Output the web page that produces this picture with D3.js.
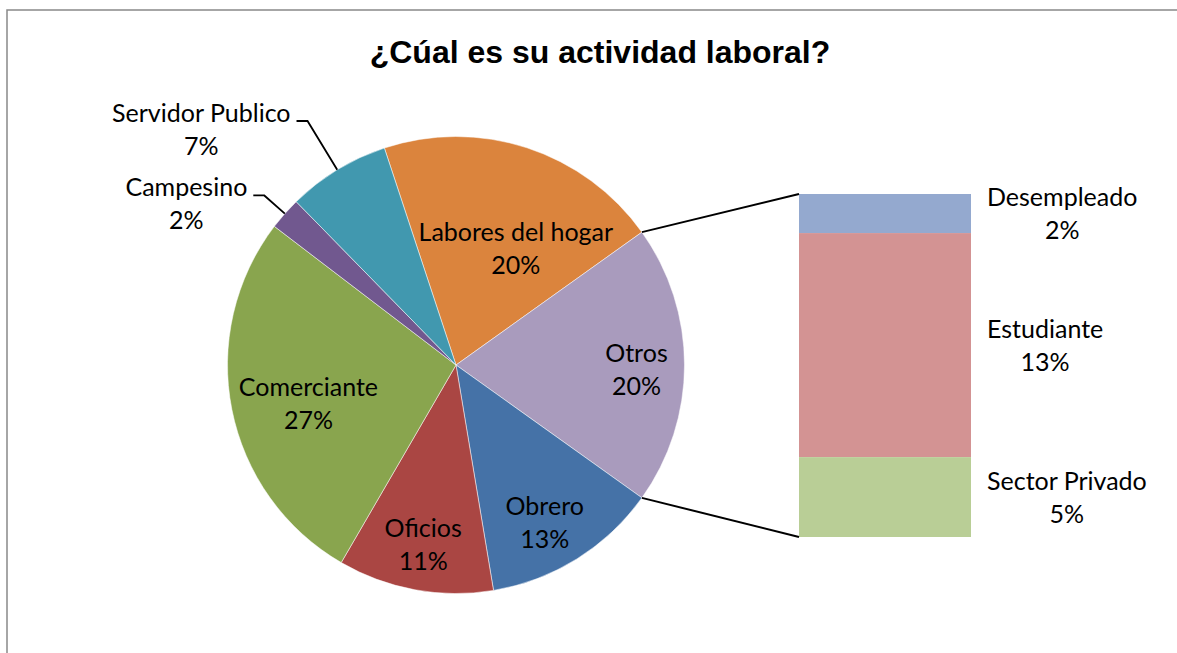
<!DOCTYPE html>
<html>
<head>
<meta charset="utf-8">
<script src="https://cdn.jsdelivr.net/npm/d3@7"></script>
<style>
  body { margin: 0; background: #fff; }
  svg { display: block; }
</style>
</head>
<body>
<svg id="chart" width="1177" height="653"></svg>
<script>
// datos (porcentajes)
const pieCategories = ["Labores del hogar", "Otros", "Obrero", "Oficios", "Comerciante", "Campesino", "Servidor Publico"];
const pieValues = [20.2, 19.75, 12.5, 11.0, 27.0, 2.3, 7.25];
const barCategories = ["Desempleado", "Estudiante", "Sector Privado"];
const barValues = [2.25, 12.9, 4.6];
const title = "¿Cúal es su actividad laboral?";

const pieColors = ["#DB843D", "#A99BBD", "#4572A7", "#AA4643", "#89A54E", "#71588F", "#4198AF"];
const barColors = ["#94A9CF", "#D39393", "#B9CE96"];

// posicion de etiquetas (estilo, no datos)
const insideLabel = {
  "Labores del hogar": { r: 0.575, da: 9 },
  "Otros": { r: 0.79, da: 1.5 },
  "Obrero": { r: 0.79, da: 2.5 },
  "Oficios": { r: 0.80, da: 0 },
  "Comerciante": { r: 0.668, da: -3.5 }
};
const outsideLabel = {
  "Campesino": { r: 1.12 },
  "Servidor Publico": { r: 1.25 }
};

const labelFont = "Lato, 'Open Sans', sans-serif";
const labelSize = 25;
const lineGap = 33;

const cx = 456, cy = 365, R = 228.5;
const barX = 799, barW = 172, barTop = 194, barBottom = 537;

const svg = d3.select("#chart");

// marco
svg.append("rect")
  .attr("x", 7).attr("y", 10)
  .attr("width", 1220).attr("height", 700)
  .attr("fill", "#fff")
  .attr("stroke", "#898989")
  .attr("stroke-width", 1.5);

svg.append("text")
  .attr("x", 600).attr("y", 63)
  .attr("text-anchor", "middle")
  .style("font-family", "'Liberation Sans', Arial, sans-serif")
  .style("font-weight", "bold")
  .style("font-size", "32px")
  .text(title);

const total = d3.sum(pieValues);
const pct = v => Math.round(v / total * 100) + "%";

// el slice "Otros" queda centrado a la derecha (90 grados)
const otrosIdx = pieCategories.indexOf("Otros");
const before = d3.sum(pieValues.slice(0, otrosIdx)) + pieValues[otrosIdx] / 2;
const start = Math.PI / 2 - before / total * 2 * Math.PI;

const pieData = pieCategories.map((c, i) => ({ name: c, value: pieValues[i], color: pieColors[i] }));
const pie = d3.pie().value(d => d.value).sort(null)
  .startAngle(start).endAngle(start + 2 * Math.PI);
const arcs = pie(pieData);
const arc = d3.arc().innerRadius(0).outerRadius(R);

const g = svg.append("g").attr("transform", "translate(" + cx + "," + cy + ")");

g.selectAll("path.slice")
  .data(arcs)
  .join("path")
  .attr("class", "slice")
  .attr("d", arc)
  .attr("fill", d => d.data.color)
  .attr("stroke", "#fff")
  .attr("stroke-width", 0.5);

function pt(a, r) {
  return [r * Math.sin(a), -r * Math.cos(a)];
}

// dibuja un bloque de dos lineas centrado en (x, y)
function labelBlock(parent, x, y, lines) {
  const t = parent.append("text")
    .attr("text-anchor", "middle")
    .style("font-family", labelFont)
    .style("font-size", labelSize + "px")
    .attr("fill", "#000");
  lines.forEach((s, i) => {
    t.append("tspan")
      .attr("x", x)
      .attr("y", y + (i - (lines.length - 1) / 2) * lineGap + 9)
      .text(s);
  });
  return t;
}

function textWidth(lines) {
  const tmp = svg.append("text")
    .style("font-family", labelFont)
    .style("font-size", labelSize + "px");
  let w = 0;
  lines.forEach(s => {
    tmp.text(s);
    w = Math.max(w, tmp.node().getComputedTextLength());
  });
  tmp.remove();
  return w;
}

arcs.forEach(d => {
  const mid = (d.startAngle + d.endAngle) / 2;
  const lines = [d.data.name, pct(d.value)];
  if (insideLabel[d.data.name]) {
    const o = insideLabel[d.data.name];
    const p = pt(mid + o.da * Math.PI / 180, o.r * R);
    labelBlock(g, p[0], p[1], lines);
  } else if (outsideLabel[d.data.name]) {
    const o = outsideLabel[d.data.name];
    const p0 = pt(mid, R);
    const p1 = pt(mid, o.r * R);
    const p2 = [p1[0] - 11, p1[1]];
    g.append("polyline")
      .attr("points", [p0, p1, p2].map(p => p.join(",")).join(" "))
      .attr("fill", "none")
      .attr("stroke", "#000")
      .attr("stroke-width", 1.8);
    const w = textWidth(lines);
    labelBlock(g, p2[0] - 6 - w / 2, p1[1] - 8 + lineGap / 2, lines);
  }
});

// barra de "Otros"
const otros = arcs[otrosIdx];
const barTotal = d3.sum(barValues);
const y = d3.scaleLinear().domain([0, barTotal]).range([barTop, barBottom]);
let acc = 0;
const segs = barValues.map((v, i) => {
  const s = { name: barCategories[i], value: v, y0: acc, y1: acc + v, color: barColors[i] };
  acc += v;
  return s;
});

svg.selectAll("rect.seg")
  .data(segs)
  .join("rect")
  .attr("class", "seg")
  .attr("x", barX)
  .attr("width", barW)
  .attr("y", d => y(d.y0))
  .attr("height", d => y(d.y1) - y(d.y0))
  .attr("fill", d => d.color);

segs.forEach(d => {
  const lines = [d.name, pct(d.value)];
  const w = textWidth(lines);
  labelBlock(svg, barX + barW + 16 + w / 2, (y(d.y0) + y(d.y1)) / 2, lines);
});

// lineas de conexion
const a = pt(otros.startAngle, R), b = pt(otros.endAngle, R);
svg.append("line")
  .attr("x1", cx + a[0]).attr("y1", cy + a[1])
  .attr("x2", barX).attr("y2", y(0))
  .attr("stroke", "#000").attr("stroke-width", 2);
svg.append("line")
  .attr("x1", cx + b[0]).attr("y1", cy + b[1])
  .attr("x2", barX).attr("y2", y(barTotal))
  .attr("stroke", "#000").attr("stroke-width", 2);
</script>
</body>
</html>
